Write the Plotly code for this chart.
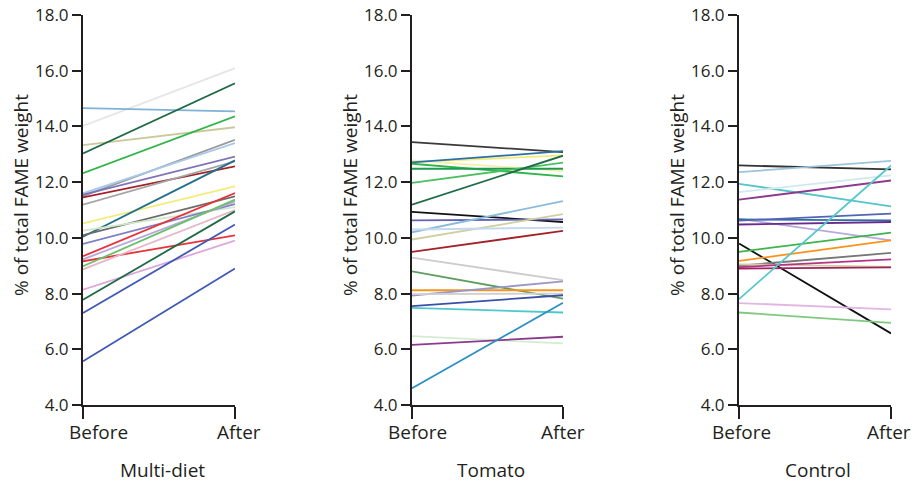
import plotly.graph_objects as go

# ---------------- data ----------------
time_labels = ["Before", "After"]
panel_names = ["Multi-diet", "Tomato", "Control"]
y_ticks = [4.0, 6.0, 8.0, 10.0, 12.0, 14.0, 16.0, 18.0]
y_title = "% of total FAME weight"

multi_before = [14.02, 14.66, 13.33, 13.03, 12.32, 11.50, 11.60, 11.55, 11.45, 11.19,
                10.52, 10.04, 10.10, 10.26, 9.78, 9.34, 9.16, 9.23, 8.98, 8.87,
                8.14, 7.78, 7.30, 5.57]
multi_after = [16.09, 14.54, 13.97, 15.55, 14.36, 13.52, 13.40, 12.92, 12.57, 12.75,
               11.85, 12.78, 11.49, 11.10, 11.21, 11.61, 10.09, 11.30, 11.37, 11.00,
               9.90, 10.95, 10.48, 8.90]
multi_colors = ["#e6e6e6", "#7fb2d4", "#c9c99a", "#1e6b45", "#2fb54a", "#9a9a9a",
                "#a9c9ea", "#7d73b8", "#a3222a", "#a5a5a5", "#f3ec7a", "#1f6f8b",
                "#6b6b6b", "#cfe8c8", "#7f7fc4", "#e8323a", "#e8323a", "#b7a8d9",
                "#6cbf6c", "#e5b8c8", "#dca8dc", "#1e6b45", "#3f58b5", "#3f58b5"]

tomato_before = [13.44, 12.72, 12.78, 12.71, 12.66, 12.48, 11.97, 11.19, 10.93, 10.63,
                 10.20, 9.94, 10.30, 9.50, 9.29, 8.80, 8.12, 7.93, 7.98, 7.55,
                 7.49, 6.47, 6.16, 4.60]
tomato_after = [13.08, 12.96, 12.40, 13.11, 12.21, 12.48, 12.70, 12.95, 10.57, 10.66,
                11.32, 10.85, 10.37, 10.25, 8.48, 7.82, 8.12, 8.44, 8.00, 7.94,
                7.32, 6.21, 6.45, 7.67]
tomato_colors = ["#3a3a3a", "#f3ec7a", "#f5f0a8", "#2a6fa8", "#2fb54a", "#1f9a50",
                 "#4cc060", "#1e6b45", "#111111", "#6464b4", "#8abbdc", "#cfcf9f",
                 "#c5d8ee", "#a3222a", "#cccccc", "#5e9e5e", "#f7941d", "#9898c8",
                 "#d0d0d0", "#3a4fa8", "#4fc8cc", "#d4ecd0", "#8c3a8c", "#2c8fc4"]

control_before = [12.60, 12.36, 11.94, 11.64, 11.37, 10.68, 10.66, 10.62, 10.48, 9.80,
                  9.50, 9.17, 9.00, 9.05, 8.95, 8.90, 7.80, 7.66, 7.32]
control_after = [12.46, 12.76, 11.13, 12.24, 12.06, 9.91, 10.63, 10.87, 10.57, 6.57,
                 10.19, 9.91, 9.46, 8.96, 9.23, 8.94, 12.60, 7.43, 6.95]
control_colors = ["#333333", "#9cc4dc", "#55c4cc", "#d0e8ee", "#8c3a8c", "#b8a8dc",
                  "#2a6fa8", "#5464b4", "#6a2a8a", "#111111", "#3cb44a", "#f7941d",
                  "#777777", "#cfcf9f", "#b5338a", "#a0245e", "#55c8cc", "#e3b5e3",
                  "#80c880"]

panels = [
    (multi_before, multi_after, multi_colors),
    (tomato_before, tomato_after, tomato_colors),
    (control_before, control_after, control_colors),
]

# ---------------- layout geometry ----------------
W, H = 920, 486
M_T, M_B = 15, 81
x_domains = [(83 / W, 235 / W), (412 / W, 563 / W), (739 / W, 891 / W)]
ytitle_px = [21, 350, 677]
before_shift = [15, 5, 2]
after_shift = [4, 0, -2]

INK = "#231f20"
FONT = "Open Sans"

fig = go.Figure()
annotations = []
for i, (bef, aft, cols) in enumerate(panels):
    ax = "" if i == 0 else str(i + 1)
    for b, a, c in zip(bef, aft, cols):
        fig.add_trace(go.Scatter(
            x=[0, 1], y=[b, a], mode="lines",
            line=dict(color=c, width=1.8),
            xaxis="x" + ax, yaxis="y" + ax,
            showlegend=False, hoverinfo="skip",
        ))
    fig.layout["xaxis" + ax] = dict(
        domain=list(x_domains[i]), range=[0, 1], anchor="y" + ax,
        tickvals=[0, 1], showticklabels=False,
        showline=True, linecolor=INK, linewidth=2,
        ticks="outside", ticklen=12, tickwidth=2, tickcolor=INK,
        showgrid=False, zeroline=False, fixedrange=True,
    )
    fig.layout["yaxis" + ax] = dict(
        domain=[0, 1], range=[4, 18], anchor="x" + ax,
        tickvals=y_ticks, ticktext=["%.1f" % v for v in y_ticks],
        tickfont=dict(family=FONT, size=17, color=INK),
        showline=True, linecolor=INK, linewidth=2,
        ticks="outside", ticklen=9, tickwidth=1.5, tickcolor=INK,
        showgrid=False, zeroline=False, fixedrange=True,
    )
    # tick labels Before / After
    for xv, lab, sh in ((0, time_labels[0], before_shift[i]), (1, time_labels[1], after_shift[i])):
        annotations.append(dict(
            x=xv, xref="x" + ax, y=(405 - 432) / (H - M_T - M_B), yref="paper",
            text=lab, showarrow=False, xanchor="center", yanchor="middle",
            xshift=sh, font=dict(family=FONT, size=19, color=INK),
        ))
    # panel title
    annotations.append(dict(
        x=0.5 * (x_domains[i][0] + x_domains[i][1]) + 3 / W, xref="paper",
        y=(405 - 470) / (H - M_T - M_B), yref="paper",
        text=panel_names[i], showarrow=False, xanchor="center", yanchor="middle",
        font=dict(family=FONT, size=19, color=INK),
    ))
    # y-axis title
    annotations.append(dict(
        x=ytitle_px[i] / W, xref="paper",
        y=(405 - 195) / (H - M_T - M_B), yref="paper",
        text=y_title, textangle=-90, showarrow=False,
        xanchor="center", yanchor="middle",
        font=dict(family=FONT, size=19, color=INK),
    ))

fig.update_layout(
    width=W, height=H,
    margin=dict(l=0, r=0, t=M_T, b=M_B),
    paper_bgcolor="white", plot_bgcolor="white",
    annotations=annotations,
    font=dict(family=FONT, color=INK),
)

fig.write_html("out.html")
